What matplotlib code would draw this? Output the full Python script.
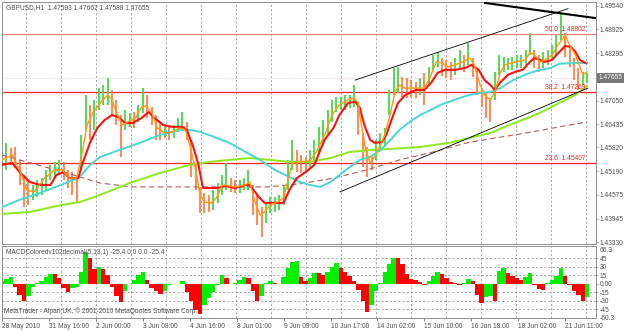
import numpy as np
import matplotlib.pyplot as plt
from matplotlib import transforms

plt.rcParams['font.family'] = ['Liberation Sans', 'DejaVu Sans']

# GBPUSD H1 - one bar kept out of every three (x = bar number)
bar_hi = [1.4575, 1.4594, 1.4580, 1.4583, 1.4549, 1.4509, 1.4496, 1.4483, 1.4496, 1.4501,
          1.4523, 1.4536, 1.4544, 1.4549, 1.4544, 1.4523, 1.4517, 1.4509, 1.4615, 1.4720,
          1.4694, 1.4707, 1.4738, 1.4746, 1.4765, 1.4733, 1.4707, 1.4667, 1.4680, 1.4673,
          1.4675, 1.4694, 1.4738, 1.4720, 1.4688, 1.4667, 1.4646, 1.4641, 1.4638, 1.4641,
          1.4659, 1.4675, 1.4649, 1.4602, 1.4541, 1.4478, 1.4462, 1.4457, 1.4470, 1.4488,
          1.4509, 1.4541, 1.4501, 1.4496, 1.4496, 1.4501, 1.4523, 1.4483, 1.4457, 1.4425,
          1.4436, 1.4452, 1.4452, 1.4457, 1.4483, 1.4549, 1.4602, 1.4575, 1.4562, 1.4557,
          1.4575, 1.4602, 1.4636, 1.4654, 1.4680, 1.4707, 1.4715, 1.4715, 1.4720, 1.4720,
          1.4746, 1.4694, 1.4620, 1.4583, 1.4562, 1.4602, 1.4620, 1.4633, 1.4733, 1.4791,
          1.4794, 1.4767, 1.4765, 1.4759, 1.4754, 1.4765, 1.4778, 1.4794, 1.4825, 1.4833,
          1.4817, 1.4812, 1.4807, 1.4817, 1.4838, 1.4825, 1.4857, 1.4817, 1.4786, 1.4738,
          1.4725, 1.4712, 1.4781, 1.4825, 1.4820, 1.4817, 1.4820, 1.4825, 1.4825, 1.4838,
          1.4883, 1.4838, 1.4825, 1.4833, 1.4838, 1.4851, 1.4878, 1.4938, 1.4883, 1.4851,
          1.4817, 1.4791, 1.4781, 1.4778]
bar_lo = [1.4509, 1.4523, 1.4536, 1.4528, 1.4483, 1.4425, 1.4430, 1.4444, 1.4452, 1.4457,
          1.4470, 1.4496, 1.4501, 1.4509, 1.4496, 1.4475, 1.4457, 1.4436, 1.4523, 1.4628,
          1.4602, 1.4628, 1.4680, 1.4694, 1.4694, 1.4667, 1.4641, 1.4557, 1.4628, 1.4636,
          1.4633, 1.4649, 1.4673, 1.4659, 1.4641, 1.4602, 1.4602, 1.4607, 1.4602, 1.4607,
          1.4622, 1.4628, 1.4602, 1.4504, 1.4470, 1.4409, 1.4409, 1.4412, 1.4417, 1.4436,
          1.4457, 1.4470, 1.4465, 1.4462, 1.4462, 1.4470, 1.4470, 1.4404, 1.4378, 1.4346,
          1.4383, 1.4409, 1.4412, 1.4417, 1.4430, 1.4470, 1.4523, 1.4517, 1.4515, 1.4517,
          1.4523, 1.4541, 1.4567, 1.4588, 1.4615, 1.4649, 1.4675, 1.4680, 1.4680, 1.4686,
          1.4688, 1.4615, 1.4530, 1.4504, 1.4523, 1.4549, 1.4575, 1.4583, 1.4667, 1.4720,
          1.4725, 1.4715, 1.4712, 1.4715, 1.4712, 1.4720, 1.4694, 1.4746, 1.4786, 1.4794,
          1.4770, 1.4765, 1.4759, 1.4773, 1.4786, 1.4781, 1.4799, 1.4767, 1.4720, 1.4688,
          1.4659, 1.4649, 1.4707, 1.4773, 1.4781, 1.4786, 1.4786, 1.4791, 1.4791, 1.4799,
          1.4825, 1.4791, 1.4781, 1.4791, 1.4799, 1.4812, 1.4825, 1.4865, 1.4820, 1.4794,
          1.4759, 1.4733, 1.4746, 1.4752]

# MACD coloured histogram, same bars
macd = [5, 8, 11, -5, -20, -30, -22, -6, 2, 4,
        12, 17, 17, 10, -7, -15, -7, -5, 20, 55,
        45, 25, 30, 25, 15, -6, -22, -32, -12, -1,
        7, 15, 21, 7, -8, -13, -18, -13, -3, -1,
        -1, 5, -15, -31, -47, -54, -37, -25, -14, -2,
        15, 10, 0, 1, 6, 11, 10, -13, -30, -22,
        2, 4, 2, -1, 11, 27, 39, 40, 12, 5,
        10, 18, 18, 16, 20, 30, 36, 28, 21, 13,
        4, -11, -30, -50, -37, -13, 1, 20, 35, 45,
        45, 34, 17, 8, 6, 3, -2, 4, 13, 21,
        17, 10, 3, 2, -3, 2, 8, 5, -19, -34,
        -24, -22, -30, 22, 28, 18, 14, 10, 7, 11,
        18, -2, -10, -11, 1, 7, 14, 27, 14, -2,
        -13, -20, -31, -24]

# moving averages (bar number, price)
ma_fast_t = [0, 7, 12, 17, 22, 29, 36, 41, 46, 51, 55, 58, 62, 67, 72, 75, 78, 82, 86, 91,
             95, 98, 102, 106, 111, 116, 121, 125, 128, 132, 135, 138, 143, 147, 150, 154, 159,
             166, 169, 172, 176, 179, 183, 187, 192, 195, 198, 203, 210, 215, 220, 225, 230,
             236, 240, 243, 245, 248, 251, 254, 258, 261, 265, 268, 271, 275, 280, 285, 288,
             292, 296, 300, 304, 309, 314, 319, 322, 326, 329, 333, 336, 340, 343, 350, 357,
             360, 363, 367, 370, 375, 379, 384, 387, 391, 394, 396, 399]
ma_fast_p = [1.4549, 1.4562, 1.4523, 1.4470, 1.4465, 1.4501, 1.4523, 1.4523, 1.4501, 1.4501,
             1.4575, 1.4641, 1.4673, 1.4699, 1.4720, 1.4707, 1.4673, 1.4641, 1.4649, 1.4659,
             1.4688, 1.4691, 1.4675, 1.4633, 1.4620, 1.4622, 1.4633, 1.4628, 1.4588, 1.4523,
             1.4457, 1.4438, 1.4436, 1.4454, 1.4483, 1.4481, 1.4478, 1.4483, 1.4491, 1.4444,
             1.4404, 1.4412, 1.4431, 1.4436, 1.4449, 1.4496, 1.4541, 1.4544, 1.4546, 1.4575,
             1.4615, 1.4667, 1.4694, 1.4707, 1.4712, 1.4699, 1.4641, 1.4575, 1.4541, 1.4557,
             1.4588, 1.4615, 1.4675, 1.4728, 1.4746, 1.4738, 1.4738, 1.4738, 1.4738, 1.4767,
             1.4807, 1.4804, 1.4794, 1.4799, 1.4807, 1.4817, 1.4799, 1.4746, 1.4720, 1.4707,
             1.4728, 1.4781, 1.4799, 1.4807, 1.4812, 1.4833, 1.4825, 1.4807, 1.4812, 1.4825,
             1.4851, 1.4878, 1.4851, 1.4825, 1.4794, 1.4773, 1.4781]

ma_mid_t = [0, 7, 12, 19, 26, 33, 37, 42, 46, 52, 55, 60, 65, 70, 75, 79, 84, 89, 95, 100,
            104, 110, 116, 123, 126, 130, 134, 137, 142, 147, 152, 159, 166, 169, 175, 179,
            186, 192, 196, 201, 207, 213, 217, 220, 226, 230, 236, 241, 244, 247, 251, 254,
            259, 262, 266, 270, 275, 282, 288, 293, 297, 302, 309, 316, 320, 325, 329, 333,
            336, 340, 345, 350, 355, 360, 363, 367, 370, 375, 378, 384, 388, 391, 394, 398]
ma_mid_p = [1.4536, 1.4541, 1.4517, 1.4491, 1.4483, 1.4483, 1.4509, 1.4517, 1.4501, 1.4501,
            1.4541, 1.4594, 1.4633, 1.4654, 1.4667, 1.4662, 1.4646, 1.4646, 1.4659, 1.4675,
            1.4659, 1.4641, 1.4636, 1.4636, 1.4628, 1.4588, 1.4536, 1.4475, 1.4475, 1.4475,
            1.4481, 1.4475, 1.4483, 1.4483, 1.4452, 1.4436, 1.4436, 1.4436, 1.4470, 1.4501,
            1.4517, 1.4536, 1.4575, 1.4602, 1.4633, 1.4667, 1.4699, 1.4702, 1.4686, 1.4641,
            1.4602, 1.4594, 1.4596, 1.4615, 1.4659, 1.4699, 1.4720, 1.4733, 1.4733, 1.4754,
            1.4778, 1.4786, 1.4786, 1.4791, 1.4799, 1.4786, 1.4759, 1.4746, 1.4733, 1.4754,
            1.4773, 1.4781, 1.4786, 1.4807, 1.4817, 1.4812, 1.4807, 1.4812, 1.4825, 1.4849,
            1.4846, 1.4833, 1.4812, 1.4804]

ma_slow_t = [0, 12, 26, 40, 53, 60, 67, 80, 94, 108, 121, 128, 135, 145, 155, 166, 176, 186,
             196, 203, 210, 217, 224, 230, 237, 244, 251, 258, 265, 271, 278, 285, 292, 299,
             305, 312, 319, 326, 333, 340, 346, 353, 360, 367, 374, 380, 391, 399]
ma_slow_p = [1.4425, 1.4444, 1.4462, 1.4483, 1.4504, 1.4536, 1.4557, 1.4575, 1.4594, 1.4615,
             1.4628, 1.4628, 1.4623, 1.4609, 1.4594, 1.4570, 1.4549, 1.4523, 1.4504, 1.4491,
             1.4483, 1.4478, 1.4491, 1.4509, 1.4530, 1.4549, 1.4557, 1.4575, 1.4602, 1.4628,
             1.4649, 1.4667, 1.4680, 1.4694, 1.4702, 1.4712, 1.4720, 1.4725, 1.4728, 1.4738,
             1.4754, 1.4767, 1.4778, 1.4786, 1.4791, 1.4802, 1.4804, 1.4804]

ma_long_t = [0, 19, 40, 53, 67, 87, 108, 128, 142, 155, 169, 183, 196, 210, 224, 237, 251,
             265, 285, 305, 319, 333, 346, 360, 367, 380, 391, 399]
ma_long_p = [1.4407, 1.4412, 1.4430, 1.4438, 1.4457, 1.4488, 1.4515, 1.4536, 1.4544, 1.4549,
             1.4554, 1.4549, 1.4544, 1.4544, 1.4554, 1.4570, 1.4575, 1.4578, 1.4583, 1.4594,
             1.4607, 1.4620, 1.4641, 1.4662, 1.4673, 1.4699, 1.4720, 1.4744]

ma_200_t = [0, 12, 44, 67, 89, 113, 135, 157, 181, 203, 226, 249, 271, 294, 317, 340, 362,
            380, 399]
ma_200_p = [1.4562, 1.4549, 1.4515, 1.4488, 1.4478, 1.4478, 1.4478, 1.4478, 1.4478, 1.4486,
            1.4501, 1.4523, 1.4549, 1.4570, 1.4594, 1.4609, 1.4623, 1.4636, 1.4649]

# fibo levels and trend lines
fib_levels = [1.48802, 1.47269, 1.45407]
fib_names = ['50.0', '38.2', '23.6']
channel_up = ([240.7, 385.9], [1.4759, 1.4947])
channel_dn = ([230.5, 399.5], [1.4465, 1.4738])
top_line = ([329.3, 405.0], [1.4962, 1.4922])

price_ticks = [1.49540, 1.48925, 1.48295, 1.47050, 1.46435, 1.45820, 1.45190, 1.44575,
               1.43945, 1.43330]
last_price = 1.47655
macd_ticks = [45, 30, 15, 0, -15, -30, -45]
time_pos = [0, 32, 64, 96, 128, 160, 192, 224, 256, 288, 320, 352, 384]
time_labels = ['28 May 2010', '31 May 16:00', '2 Jun 00:00', '3 Jun 08:00', '4 Jun 16:00',
               '8 Jun 01:00', '9 Jun 09:00', '10 Jun 17:00', '14 Jun 02:00', '15 Jun 10:00',
               '16 Jun 18:00', '18 Jun 02:00', '21 Jun 11:00']
grid_pos = [16.4 + 23.85 * k for k in range(17)]

txt = '#505050'
fs = 4.8

fig = plt.figure(figsize=(6.25, 3.31), dpi=100)
ax = fig.add_axes([2 / 625, 1 - 244 / 331, 594 / 625, 242 / 331])
ax2 = fig.add_axes([2 / 625, 1 - 318 / 331, 594 / 625, 72 / 331])

for a in (ax, ax2):
    a.set_xlim(0, 405)
    for s in a.spines.values():
        s.set_color('#909090')
        s.set_linewidth(0.7)
    for g in grid_pos:
        a.axvline(g, color='#9a9a9a', ls=(0, (2.5, 2.5)), lw=0.6, zorder=0)
    a.yaxis.tick_right()
    a.tick_params(axis='y', length=1.5, width=0.6, color='#909090', labelsize=fs,
                  labelcolor=txt, pad=1)

# price bars
t = np.arange(len(bar_hi)) * 3
hi = np.array(bar_hi)
lo = np.array(bar_lo)
mid = (hi + lo) / 2
up = np.r_[True, mid[1:] >= mid[:-1]]
bar_cols = np.where(up, '#5ad85a', '#ff8a5c')
ax.vlines(t, lo, hi, colors=bar_cols, linewidth=1.5, zorder=2)

# moving averages
ax.plot(ma_200_t, ma_200_p, color='#b85c5c', lw=0.8, ls=(0, (5, 3)), zorder=3)
ax.plot(ma_long_t, ma_long_p, color='#8ee81e', lw=1.4, zorder=3)
ax.plot(ma_slow_t, ma_slow_p, color='#48d8d0', lw=1.4, zorder=3)
ax.plot(ma_mid_t, ma_mid_p, color='#ff1010', lw=1.5, zorder=4)
ax.plot(ma_fast_t, ma_fast_p, color='#ff9a10', lw=1.0, zorder=5)

# fibonacci levels
for lev, name in zip(fib_levels, fib_names):
    col = '#ff8080' if name == '50.0' else '#ff2020'
    ax.axhline(lev, color=col, lw=0.9, zorder=1)
    ax.text(398, lev + 0.0003, f'{name}  {lev:.5f}', color='#ff2020', fontsize=fs,
            ha='right', va='bottom', zorder=6)

# channel
ax.plot(*channel_up, color='black', lw=0.6, zorder=6)
ax.plot(*channel_dn, color='black', lw=0.6, zorder=6)
ax.plot(*top_line, color='black', lw=1.5, zorder=6)

# bid line and price box
ax.axhline(last_price, color='#e0b8b8', ls=(0, (1, 2)), lw=0.6, zorder=1)
trans = transforms.blended_transform_factory(ax.transAxes, ax.transData)
ax.text(1.004, last_price, f'{last_price:.5f}', transform=trans, color='white', fontsize=fs,
        va='center', ha='left', bbox=dict(facecolor='#777777', edgecolor='none', pad=1.0),
        clip_on=False)

ax.set_ylim(1.43278, 1.49645)
ax.set_yticks(price_ticks)
ax.set_yticklabels([f'{p:.5f}' for p in price_ticks])
ax.set_xticks([])
ax.text(0.006, 0.978, 'GBPUSD,H1  1.47593 1.47662 1.47588 1.47655', transform=ax.transAxes,
        fontsize=fs, color=txt, va='center', ha='left')

# MACD panel
mv = np.array(macd)
rising = np.r_[True, mv[1:] > mv[:-1]]
ax2.bar(t, mv, width=3.05, color=np.where(rising, '#00f000', '#ff0000'), linewidth=0, zorder=2)
for lv in macd_ticks:
    if lv != 0:
        ax2.axhline(lv, color='#9a9a9a', ls=(0, (2.5, 2.5)), lw=0.6, zorder=0)
ax2.set_ylim(-60.3, 66.3)
ax2.set_yticks(macd_ticks)
ax2.set_yticklabels(['45', '30', '15', '0.00', '-15', '-30', '-45'])
trans2 = transforms.blended_transform_factory(ax2.transAxes, ax2.transData)
ax2.text(1.006, 58, '66.3', transform=trans2, fontsize=fs, color=txt, va='center', ha='left',
         clip_on=False)
ax2.text(1.006, -60.3, '-60.3', transform=trans2, fontsize=fs, color=txt, va='center', ha='left',
         clip_on=False)
ax2.text(0.006, 0.915, 'MACDColoredv102decimal(5,13,1) -25.4 0.0 0.0 -25.4', transform=ax2.transAxes,
         fontsize=fs, color=txt, va='center', ha='left')
ax2.text(0.003, 0.10, 'MetaTrader - Alpari UK, \u00a9 2001-2010 MetaQuotes Software Corp.',
         transform=ax2.transAxes, fontsize=fs, color=txt, va='center', ha='left')

ax2.set_xticks(time_pos)
ax2.set_xticklabels(time_labels)
ax2.tick_params(axis='x', length=2, width=0.6, color='#707070', labelsize=fs, labelcolor=txt, pad=1.5)
for lab in ax2.get_xticklabels():
    lab.set_ha('left')

fig.savefig('out.png', dpi=100)
